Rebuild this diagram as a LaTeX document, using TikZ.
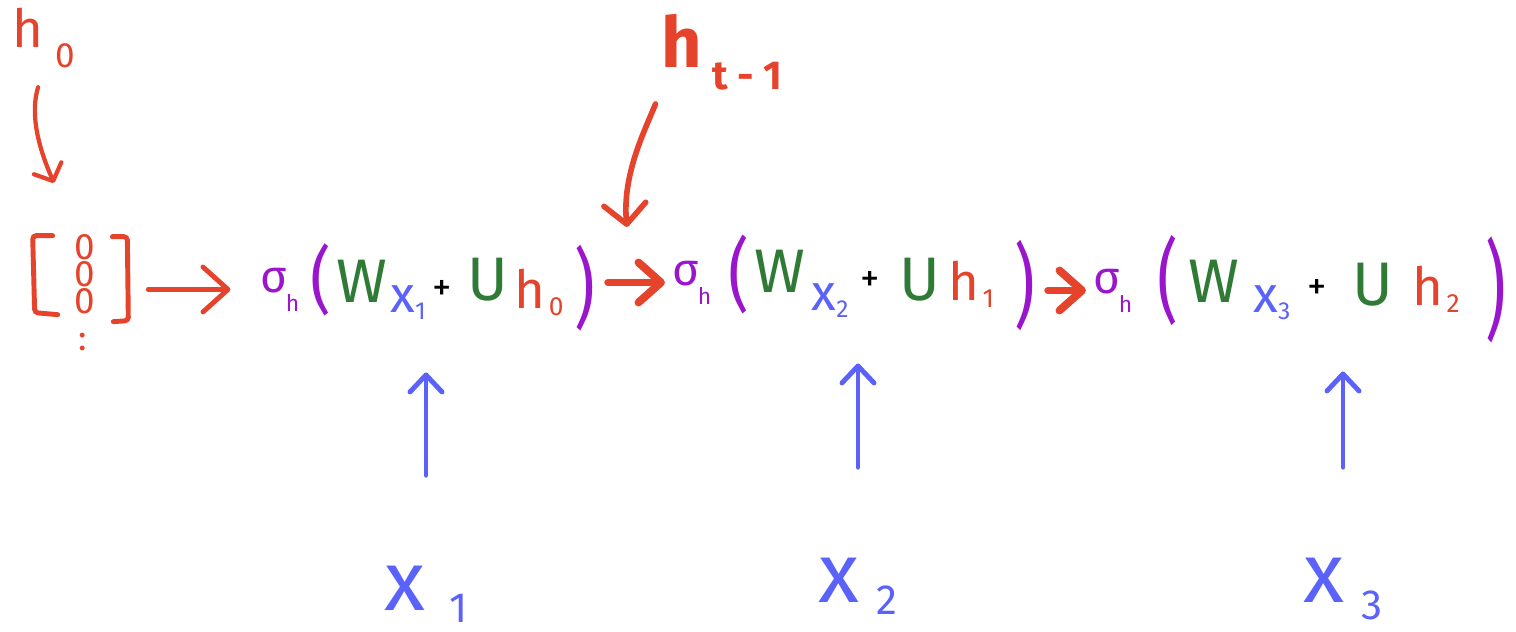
\documentclass[tikz,border=0pt]{standalone}
\usepackage{fontspec}
\usepackage{graphicx}
\setmainfont{Fira Sans}
\usetikzlibrary{arrows.meta}
\definecolor{cred}{HTML}{E5432B}
\definecolor{cpurple}{HTML}{9A16CC}
\definecolor{cgreen}{HTML}{2F7A35}
\definecolor{cblue}{HTML}{5A62FA}
\newcommand{\fsz}[1]{\fontsize{#1}{#1}\selectfont}
\newcommand{\lowtext}[3]{\raisebox{-#1}{\fsz{#2}#3}}
\tikzset{
  every node/.style={inner sep=0pt},
  sig/.style={text=cpurple, font=\fsz{26pt}, anchor=base},
  paren/.style={text=cpurple, font=\fsz{26pt}},
  wmat/.style={text=cgreen, font=\fsz{35pt}, anchor=base},
  umat/.style={text=cgreen, font=\fsz{35pt}, anchor=base},
  xterm/.style={text=cblue, font=\fsz{29pt}, anchor=base},
  plus/.style={font=\fsz{22pt}},
  hst/.style={text=cred, font=\fsz{30pt}, anchor=base},
  xlab/.style={text=cblue, font=\fsz{48pt}, anchor=base},
  zero/.style={text=cred, font=\fsz{21pt}},
  bracket/.style={draw=cred, line width=2.8pt, line cap=round, rounded corners=2pt},
  hookarr/.style={draw=cred, line width=2.4pt, line cap=round, -{Straight Barb[round,length=0.28cm,width=0.6cm]}},
  firstarr/.style={draw=cred, line width=2.8pt, line cap=round, -{Straight Barb[round,length=0.5cm,width=0.9cm]}},
  joinarr/.style={draw=cred, line width=4.5pt, line cap=round, -{Straight Barb[round,length=0.45cm,width=0.8cm]}},
  uparr/.style={draw=cblue, line width=2.8pt, line cap=round, -{Straight Barb[round,length=0.34cm,width=0.64cm]}},
}
\begin{document}
\begin{tikzpicture}[x=0.02cm, y=-0.02cm]
  \useasboundingbox (0,0) rectangle (1516,632);

  % initial hidden state
  \node[hst] (hzero) at (44,48) {h\hspace{7pt}\lowtext{11pt}{20pt}{0}};
  \node[minimum width=2.2cm, minimum height=1.8cm] (hvec) at (85,275) {};
  \foreach \k/\zy in {1/247, 2/274, 3/301}
    \node[zero] (z\k) at (85,\zy) {0};
  \node[text=cred, font=\fsz{20pt}] (hdots) at (83,342) {:};
  \draw[bracket] ([shift={(23,6)}]hvec.north west) -- ++(-20,0) -- ++(2,77) -- ++(23,2);
  \draw[bracket] ([shift={(-28,7)}]hvec.north east) -- ++(15,0) -- ++(1,84) -- ++(-15,1);
  \coordinate (hin) at (54,183);
  \draw[hookarr, shorten <=0.4cm] (hzero.south) .. controls (28,120) and (44,160) .. (hin);

  % the three steps
  \foreach \i/\sx/\sy/\lx/\ly/\ls/\wx/\wy/\xx/\xy/\xd/\px/\py/\ux/\uy/\hx/\hy/\hd/\rx/\ry/\rs in {
      1/280/292/321/280/1.6/362/302/408/312/1/442/290/488/300/539/308/0/585/288/1.9,
      2/692/285/739/275/1.75/780/292/830/310/2/870/281/920/300/971/300/1/1025/286/2.0,
      3/1113/293/1168/281/2.0/1214/302/1272/312/3/1317/289/1373/305/1436/305/2/1496/290/2.35} {
    \node[sig] (s\i) at (\sx,\sy) {σ\hspace{-1pt}\lowtext{11pt}{13pt}{h}};
    \node[paren] (lp\i) at (\lx,\ly) {\scalebox{1.4}[\ls]{(}};
    \node[wmat] (w\i) at (\wx,\wy) {W};
    \node[xterm] (xt\i) at (\xx,\xy) {x\lowtext{4pt}{14pt}{\xd}};
    \node[plus] (pl\i) at (\px,\py) {+};
    \node[umat] (u\i) at (\ux,\uy) {U};
    \node[hst] (h\i) at (\hx,\hy) {h\hspace{2pt}\lowtext{4pt}{15pt}{\hd}};
    \node[paren] (rp\i) at (\rx,\ry) {\scalebox{1.4}[\rs]{)}};
  }

  % inputs
  \node[xlab] (xin1) at (426,610) {x\hspace{14pt}\lowtext{7pt}{24pt}{1}};
  \node[xlab] (xin2) at (858,602) {x\hspace{10pt}\lowtext{7pt}{24pt}{2}};
  \node[xlab] (xin3) at (1343,602) {x\hspace{10pt}\lowtext{10pt}{24pt}{3}};
  \foreach \i in {1,2,3}
    \draw[uparr, shorten <=1.8cm, shorten >=1.65cm] (xin\i) -- (xin\i |- pl\i);

  % recurrence
  \draw[firstarr, shorten <=0.16cm, shorten >=0.6cm] (hvec.east |- s1.west) -- (s1.west);
  \draw[joinarr, shorten <=0.25cm, shorten >=0.15cm] (rp1.east |- s2.west) -- (s2.west);
  \draw[joinarr, shorten <=0.25cm, shorten >=0.15cm] (rp2.east |- s3.west) -- (s3.west);

  \node[hst, font=\bfseries\fsz{40pt}] (htm) at (722,68) {h\hspace{6pt}\lowtext{12pt}{23pt}{t - 1}};
  \coordinate (hjoin) at (627,227);
  \draw[hookarr, line width=3.2pt, shorten <=0.3cm, -{Straight Barb[round,length=0.4cm,width=0.84cm]}]
    (htm.south west) .. controls (645,130) and (622,175) .. (hjoin);
\end{tikzpicture}
\end{document}
